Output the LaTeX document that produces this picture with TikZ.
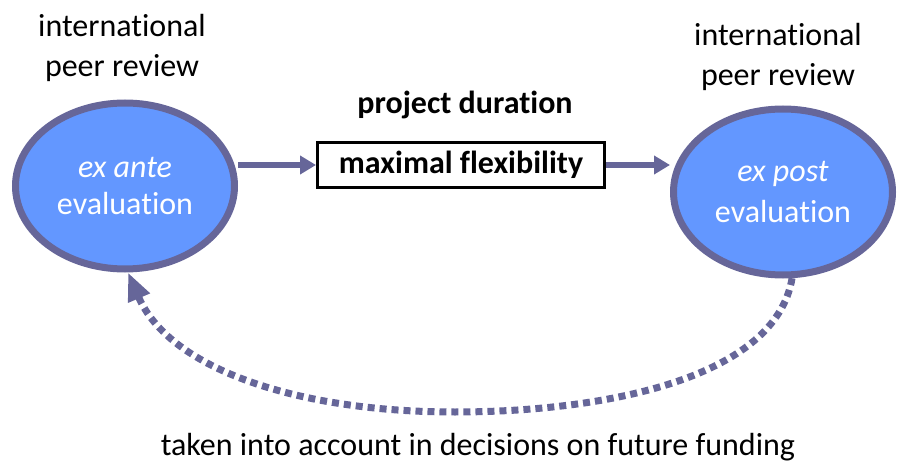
\documentclass[tikz,border=0pt]{standalone}
\usepackage{fontspec}
\setmainfont{Carlito}[Ligatures=NoCommon]
\usetikzlibrary{shapes.geometric,arrows.meta}
\definecolor{edgec}{HTML}{666699}
\definecolor{fillc}{HTML}{6397FF}
\tikzset{
  evalnode/.style={ellipse, draw=edgec, fill=fillc, line width=7pt, minimum width=219pt, minimum height=166pt, inner sep=0pt, text=white, align=center, font=\fontsize{32}{37}\selectfont},
  lbl/.style={align=center, font=\fontsize{32}{40}\selectfont, inner sep=0pt},
  boldlbl/.style={font=\fontsize{32}{38}\selectfont\bfseries, inner sep=0pt},
  boxnode/.style={draw=black, line width=3pt, minimum width=287pt, minimum height=45pt, inner sep=0pt, font=\fontsize{32}{38}\selectfont\bfseries},
  conn/.style={draw=edgec, line width=6pt, -{Triangle[length=16pt,width=18pt]}},
  backconn/.style={draw=edgec, line width=7pt, dash pattern=on 7pt off 5pt, -{Triangle[length=28pt,width=22pt]}}
}
\begin{document}
\begin{tikzpicture}[x=1pt,y=-1pt]
\useasboundingbox (0,0) rectangle (900,465);
\node[evalnode] (L) at (125,186) {\textit{ex ante}\\evaluation};
\node[evalnode] (R) at (783,192) {\textit{ex post}\\[4pt]evaluation};
\node[lbl] (lt) at (122,48) {international\\peer review};
\node[lbl] (rt) at (778,57) {international\\peer review};
\node[boldlbl] (pd) at (465,105) {project duration};
\node[boxnode] (box) at (461,165) {maximal flexibility};
\node[lbl] (bt) at (478,447) {taken into account in decisions on future funding};
\draw[conn] (L.east |- box.west) -- (box.west);
\draw[conn] (box.east) -- (box.east -| R.west);
\draw[backconn] (R.-84) .. controls (775,380) and (600,412) .. (455,412) .. controls (300,412) and (170,370) .. (L.-88);
\end{tikzpicture}
\end{document}
